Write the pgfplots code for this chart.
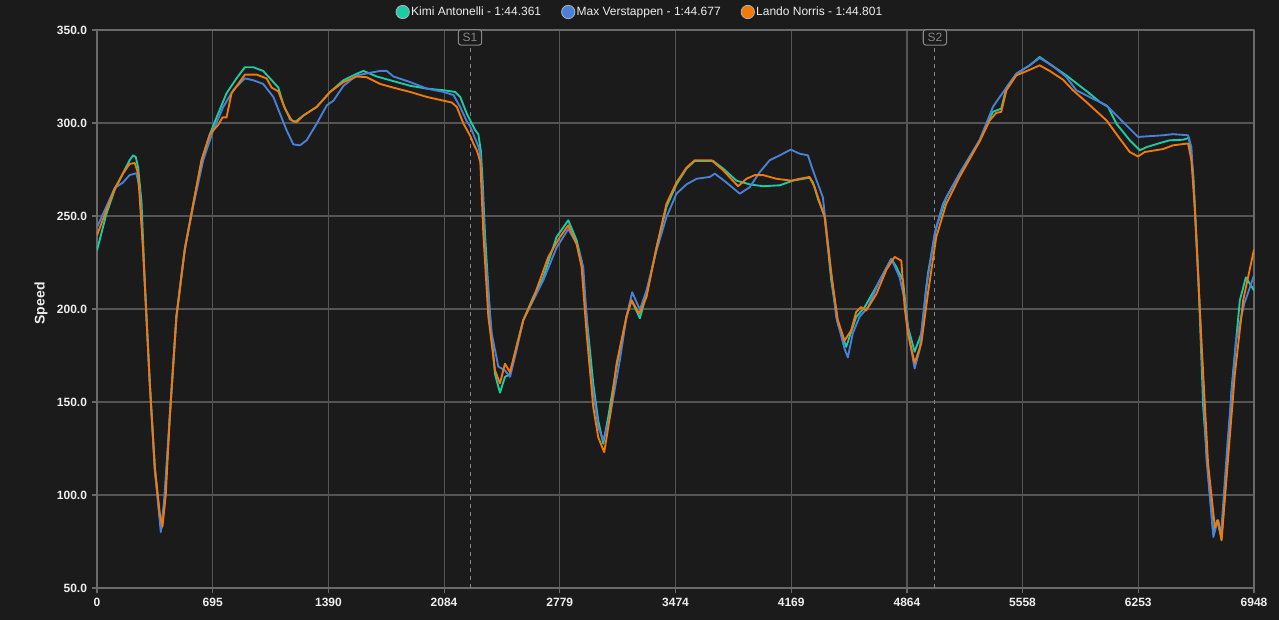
\documentclass[border=0pt]{standalone}
\usepackage{fontspec}
\setmainfont{Liberation Sans}
\usepackage{pgfplots}
\pgfplotsset{compat=1.18}
\definecolor{bg}{HTML}{1B1B1B}
\definecolor{gridc}{HTML}{555555}
\definecolor{axc}{HTML}{6A6A6A}
\definecolor{txt}{HTML}{EDEDED}
\definecolor{kimi}{HTML}{1DCBA4}
\definecolor{maxv}{HTML}{4A80D8}
\definecolor{lando}{HTML}{F27A0C}
\definecolor{secc}{HTML}{858585}
\begin{document}
\begin{tikzpicture}
\fill[bg] (0,0) rectangle (959.25pt,465pt);
\useasboundingbox (0,0) rectangle (959.25pt,465pt);
\begin{axis}[
  at={(72.75pt,24pt)}, anchor=south west,
  width=867.75pt, height=418.5pt, scale only axis,
  xmin=0, xmax=6948, ymin=50, ymax=350,
  axis line style={draw=axc, line width=0.8pt},
  grid=major, grid style={draw=gridc, line width=0.8pt},
  tick align=outside, xtick pos=lower, ytick pos=left,
  major tick length=4pt, tick style={draw=axc, line width=0.8pt},
  /pgf/number format/assume math mode=true,
  ticklabel style={font=\bfseries\fontsize{9}{10}\selectfont, text=txt},
  ytick={50,100,150,200,250,300,350},
  yticklabel style={/pgf/number format/.cd, fixed, fixed zerofill, precision=1},
  xtick={0,695,1390,2084,2779,3474,4169,4864,5558,6253,6948},
  xticklabels={0,695,1390,2084,2779,3474,4169,4864,5558,6253,6948},
  ylabel={Speed},
  every axis y label/.style={at={(axis description cs:-0.0484,0.51)}, rotate=90, anchor=center, font=\bfseries\fontsize{10.5}{12}\selectfont, text=txt},
  legend style={at={(0.469,1)}, anchor=south, yshift=8pt, draw=none, fill=none, legend columns=3,
    font=\fontsize{9}{10}\selectfont, text=txt, inner sep=0pt,
    /tikz/every even column/.append style={column sep=14pt},
    nodes={inner sep=1pt}},
  line join=round,
]
% sector markers
\draw[secc, dashed, line width=0.7pt] (axis cs:2240,50) -- (axis cs:2240,342);
\draw[secc, dashed, line width=0.7pt] (axis cs:5032,50) -- (axis cs:5032,342);
\node[draw=secc, rounded corners=2pt, fill=bg, text=secc, font=\fontsize{9}{10}\selectfont, inner sep=0pt, minimum width=17.5pt, minimum height=11.5pt, line width=0.8pt] at (axis cs:2240,346) {S1};
\node[draw=secc, rounded corners=2pt, fill=bg, text=secc, font=\fontsize{9}{10}\selectfont, inner sep=0pt, minimum width=17.5pt, minimum height=11.5pt, line width=0.8pt] at (axis cs:5032,346) {S2};

\addplot[kimi, line width=1.4pt, forget plot] coordinates {
(0,231.5) (56,251) (106,264) (156,273) (196,280) (217,282.6) (233,281.7) (247,276) (267,258) (287,214) (317,160) (347,115) (377,88) (387,82) (407,97) (437,142) (477,196) (527,232) (577,256) (628,280) (678,294) (718,303) (778,316) (838,324) (888,330) (938,330) (998,328) (1049,323) (1089,319) (1119,310) (1159,302) (1189,300.5) (1239,304) (1319,308.6) (1400,316.7) (1480,323) (1560,326.5) (1600,328) (1680,325) (1760,323) (1880,320) (1981,318.5) (2081,317.6) (2151,316.7) (2181,314) (2221,305) (2272,296) (2290,294) (2305,285) (2315,270) (2330,240.5) (2360,196) (2390,165) (2420,155) (2450,163.5) (2480,165) (2520,180) (2560,194) (2620,206.5) (2680,217) (2760,238.7) (2830,247.7) (2880,237) (2910,226) (2940,196) (2980,160) (3010,140) (3040,127.6) (3070,142) (3120,169) (3180,196) (3210,204.7) (3260,195) (3300,208) (3360,233) (3420,255) (3480,267) (3540,275.5) (3590,279.6) (3700,279.6) (3760,275.5) (3840,269) (3920,267) (4000,266) (4100,266.5) (4179,269) (4279,270.6) (4300,268) (4330,259) (4370,250) (4409,215.4) (4449,192) (4499,179.6) (4559,195.7) (4610,201) (4680,212) (4770,227) (4800,222.6) (4840,215.4) (4870,190.4) (4910,177) (4950,186.7) (4990,219) (5040,244) (5100,260) (5180,272.8) (5300,290.7) (5380,306) (5430,307.7) (5461,319) (5521,326.5) (5601,331) (5661,335.5) (5741,330.5) (5821,325.6) (5901,320) (5962,315.8) (6022,311.3) (6072,308.6) (6122,299.6) (6202,290.7) (6262,285.3) (6302,287) (6382,289.2) (6442,290.7) (6522,291) (6558,292) (6583,272.8) (6613,219) (6643,147) (6673,111.6) (6703,80) (6727,86.4) (6753,76.5) (6783,111.6) (6813,156.7) (6863,204.7) (6899,217) (6948,210)
};
\addplot[maxv, line width=1.4pt, forget plot] coordinates {
(0,244) (56,255) (106,265) (156,268) (196,272) (237,273) (257,264) (277,231.5) (317,160) (347,113) (377,86) (383,80) (403,97) (437,142) (477,196) (527,232) (577,255) (638,280) (698,296) (758,308.6) (818,317.6) (888,324) (938,323) (998,321) (1059,314) (1099,305) (1139,296) (1179,288.5) (1219,288) (1259,290.7) (1319,299.6) (1380,309.5) (1420,312) (1480,320) (1560,325.6) (1640,327) (1700,328) (1740,328) (1780,325) (1880,322) (1981,318.5) (2081,316.7) (2141,315) (2181,308.6) (2220,301) (2242,298) (2292,287) (2300,283.5) (2315,265) (2330,231.5) (2370,187) (2410,169) (2450,167) (2480,163.5) (2520,178) (2560,194) (2620,204.7) (2680,215.4) (2760,233) (2830,243) (2880,235) (2920,222.6) (2960,169) (3010,136.6) (3040,129.4) (3080,142) (3140,172.6) (3180,196) (3214,209) (3260,199.6) (3300,210) (3360,231.5) (3420,249.5) (3480,262) (3540,267) (3600,270) (3680,271) (3710,272.8) (3780,268) (3860,262) (3920,265.5) (3980,273.6) (4040,280) (4100,282.6) (4166,285.7) (4219,283.5) (4269,282.6) (4299,274.6) (4359,260) (4399,228) (4439,195.7) (4489,178.7) (4509,174) (4539,187) (4579,195.7) (4630,201) (4700,215.4) (4770,227) (4820,217) (4850,204.7) (4880,183) (4910,168) (4940,178) (4980,212) (5030,240.5) (5080,256.6) (5180,272.8) (5300,290.7) (5380,308.6) (5400,311.3) (5461,319) (5521,326.5) (5601,331) (5661,335) (5741,330.5) (5821,324.7) (5881,317.6) (5982,313) (6062,309.5) (6162,300.5) (6252,292.5) (6302,292.8) (6402,293.4) (6462,294) (6552,293.4) (6572,287) (6592,255) (6622,201) (6662,120) (6704,77.4) (6730,86.4) (6750,79) (6790,129.4) (6840,183) (6890,203) (6948,218)
};
\addplot[lando, line width=1.4pt, forget plot] coordinates {
(0,239.6) (56,253) (106,264.7) (156,272.8) (196,278) (227,278.5) (247,272.8) (277,231.5) (317,160) (347,115) (377,90) (393,83) (413,100) (437,142) (477,196) (527,232) (577,256) (628,280) (678,294) (728,299) (754,303) (778,303) (808,316) (888,326) (958,326) (1018,324) (1049,319) (1089,317) (1129,307.7) (1169,301.4) (1199,300.5) (1239,304) (1319,308.6) (1400,316.7) (1480,322) (1560,325) (1620,324.6) (1700,321) (1780,319) (1880,316.7) (1981,314) (2081,312) (2131,311) (2161,308.6) (2201,299.6) (2242,293) (2260,289) (2282,285) (2302,279) (2320,240.5) (2350,196) (2390,167) (2420,160) (2450,170.6) (2480,166) (2520,180) (2560,194) (2620,205.6) (2710,228) (2780,238.7) (2830,245) (2880,235) (2910,222.6) (2940,187) (2980,147.3) (3010,131) (3046,123) (3080,142) (3120,170.6) (3180,196) (3210,204.7) (3256,197.5) (3300,206.5) (3360,233) (3420,256.6) (3480,268) (3540,276) (3590,280) (3690,280) (3760,274.6) (3850,266) (3900,270) (3950,272) (4000,272) (4080,270) (4170,269) (4219,270) (4279,271) (4309,265.6) (4369,249.5) (4409,219) (4449,194) (4489,183) (4529,188.5) (4559,198.4) (4589,201) (4619,199.2) (4680,208) (4740,221) (4790,228) (4830,226) (4850,201) (4870,186.7) (4910,171) (4950,181.4) (4990,208.4) (5040,238.7) (5100,256.6) (5180,271) (5300,290) (5361,301.4) (5400,305.4) (5430,306) (5461,317.6) (5521,325.6) (5601,328.6) (5661,331) (5721,328) (5801,323.3) (5861,317.6) (5941,311.3) (6062,301.4) (6142,291.6) (6202,284.4) (6252,282) (6292,284.4) (6402,286) (6462,288) (6552,289) (6572,280) (6592,255) (6632,183) (6672,117) (6713,82.6) (6733,86.4) (6753,75.6) (6793,120.4) (6833,165) (6883,204.7) (6948,232)
};
\addlegendimage{legend image code/.code={\draw[draw=gray!60, fill=kimi, line width=0.6pt] (5pt,0pt) circle (5pt);}}
\addlegendentry{Kimi Antonelli - 1:44.361}
\addlegendimage{legend image code/.code={\draw[draw=gray!60, fill=maxv, line width=0.6pt] (5pt,0pt) circle (5pt);}}
\addlegendentry{Max Verstappen - 1:44.677}
\addlegendimage{legend image code/.code={\draw[draw=gray!60, fill=lando, line width=0.6pt] (5pt,0pt) circle (5pt);}}
\addlegendentry{Lando Norris - 1:44.801}
\end{axis}
\end{tikzpicture}
\end{document}
